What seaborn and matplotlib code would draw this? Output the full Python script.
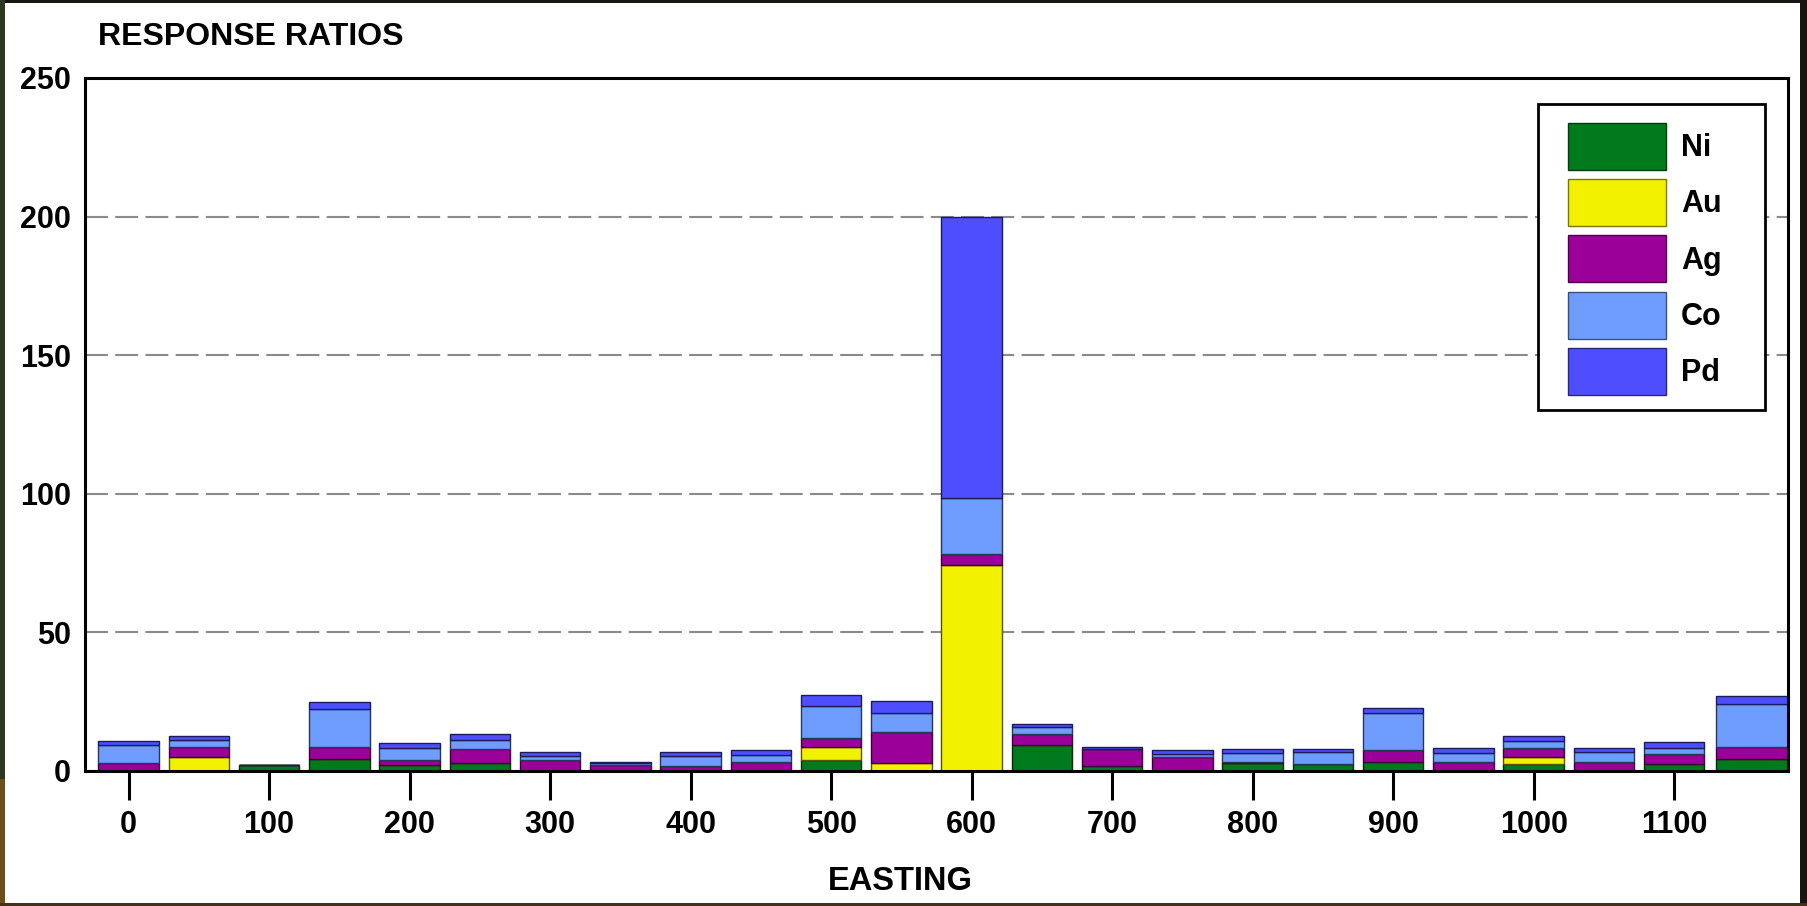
import matplotlib
matplotlib.use("Agg")
import matplotlib.pyplot as plt
from matplotlib.patches import Patch, Rectangle
import pandas as pd
import seaborn as sns

# Sample stations along the line (easting, m)
easting = [0, 50, 100, 150, 200, 250, 300, 350, 400, 450, 500, 550, 600,
           650, 700, 750, 800, 850, 900, 950, 1000, 1050, 1100, 1150]

# Response ratios per element at each station
ni_ratio = [0, 0, 2.0, 4.3, 2.1, 3.0, 0, 0, 0, 0, 3.9, 0, 0,
            9.2, 1.7, 0, 2.8, 2.4, 3.3, 0, 2.4, 0, 2.6, 4.2]
au_ratio = [0, 5.0, 0, 0, 0, 0, 0, 0, 0, 0, 4.6, 3.0, 74.3,
            0, 0, 0, 0, 0, 0, 0, 2.6, 0, 0, 0]
ag_ratio = [3.0, 3.7, 0, 4.3, 1.8, 4.9, 4.1, 2.2, 1.7, 3.3, 3.4, 10.9, 4.0,
            4.3, 6.2, 5.0, 0.5, 0, 4.3, 3.4, 3.3, 3.4, 3.5, 4.4]
co_ratio = [6.2, 2.6, 0, 13.7, 4.3, 3.3, 1.2, 0.8, 3.7, 2.4, 11.7, 7.1, 20.3,
            2.4, 0, 1.3, 3.3, 4.6, 13.2, 3.2, 2.6, 3.6, 2.3, 15.6]
pd_ratio = [1.8, 1.4, 0, 2.6, 2.0, 2.0, 1.7, 0.4, 1.6, 1.7, 3.9, 4.1, 101.4,
            1.2, 0.6, 1.3, 1.3, 0.9, 2.0, 1.6, 1.7, 1.3, 2.2, 3.0]

elements = ["Ni", "Au", "Ag", "Co", "Pd"]
colors = {"Ni": "#007a1c", "Au": "#f2f200", "Ag": "#9b0099",
          "Co": "#6f9dff", "Pd": "#4e4eff"}

series = {"Ni": ni_ratio, "Au": au_ratio, "Ag": ag_ratio,
          "Co": co_ratio, "Pd": pd_ratio}
df = pd.DataFrame({
    "easting": [e for _ in elements for e in easting],
    "element": [el for el in elements for _ in easting],
    "ratio": [v for el in elements for v in series[el]],
})

X_MIN, X_MAX = -31, 1181

# one bin per station; the last one runs out past the right frame
edges = [easting[0] - 25] + [(a + b) / 2 for a, b in zip(easting[:-1], easting[1:])]
edges.append(X_MAX + 10)

sns.set_theme(style="white")
plt.rcParams["font.family"] = ["Liberation Sans", "DejaVu Sans"]
plt.rcParams["font.weight"] = "bold"

W, H = 1807, 906
fig = plt.figure(figsize=(W / 100, H / 100), dpi=100)
fig.patch.set_facecolor("#17150f")

# white sheet with a thin coloured margin around it
fig.add_artist(Rectangle((0, 0.14), 5 / W, 0.86, transform=fig.transFigure,
                         facecolor="#2c3820", edgecolor="none", zorder=-2))
fig.add_artist(Rectangle((0, 0), 5 / W, 0.14, transform=fig.transFigure,
                         facecolor="#6e4d1c", edgecolor="none", zorder=-2))
fig.add_artist(Rectangle((0, 0), 1, 3 / H, transform=fig.transFigure,
                         facecolor="#45301a", edgecolor="none", zorder=-2))
fig.add_artist(Rectangle((5 / W, 3 / H), (1800 - 5) / W, (903 - 3) / H,
                         transform=fig.transFigure, facecolor="white",
                         edgecolor="none", zorder=-1))

AX_L, AX_R, AX_T, AX_B = 85, 1788, 78, 771
ax = fig.add_axes([AX_L / W, 1 - AX_B / H, (AX_R - AX_L) / W, (AX_B - AX_T) / H])
ax.set_facecolor("white")

sns.histplot(data=df, x="easting", weights="ratio", hue="element",
             hue_order=elements[::-1], palette=colors, multiple="stack",
             bins=edges, shrink=0.86, alpha=1, linewidth=1.0,
             legend=False, ax=ax)

# outline each segment in a darker shade of its fill
for p in ax.patches:
    fc = p.get_facecolor()
    p.set_edgecolor((fc[0] * 0.35, fc[1] * 0.35, fc[2] * 0.35, 1))

ax.set_xlim(X_MIN, X_MAX)
ax.set_ylim(0, 250)
ax.set_xticks(range(0, 1101, 100))
ax.set_yticks(range(0, 251, 50))
ax.yaxis.grid(True, color="#8a8a8a", linestyle=(0, (11, 3.5)), linewidth=1.5)
ax.xaxis.grid(False)
ax.set_axisbelow(True)

for s in ax.spines.values():
    s.set_visible(True)
    s.set_color("black")
    s.set_linewidth(2.2)

ax.tick_params(axis="x", length=21, width=2.2, pad=7, direction="out",
               labelsize=22, colors="black", bottom=True)
ax.tick_params(axis="y", length=0, pad=10, labelsize=22, colors="black")

ax.set_ylabel("")
ax.set_xlabel("EASTING", fontsize=23.5, fontweight="bold", color="black")
ax.xaxis.set_label_coords((900 - AX_L) / (AX_R - AX_L),
                          (AX_B - 866) / (AX_B - AX_T))

fig.text(98 / W, 1 - 45 / H, "RESPONSE RATIOS", fontsize=23,
         fontweight="bold", ha="left", va="baseline", color="black")

handles = [Patch(facecolor=colors[e],
                 edgecolor=tuple(c * 0.5 for c in matplotlib.colors.to_rgb(colors[e])),
                 linewidth=1, label=e) for e in elements]
leg = ax.legend(handles=handles, loc="upper left",
                bbox_to_anchor=(1568 / W, 1 - 123 / H),
                bbox_transform=fig.transFigure,
                borderaxespad=0, fontsize=22, frameon=False,
                handlelength=3.2, handleheight=1.99, handletextpad=0.5,
                labelspacing=0.3, borderpad=0)
for t in leg.get_texts():
    t.set_fontweight("bold")
    t.set_color("black")

# box around the key, padded wider on the right than on the left
fig.canvas.draw()
bb = leg.get_window_extent()
inv = fig.transFigure.inverted()
(x0, y0), (x1, y1) = inv.transform([(bb.x0 - 30, bb.y0 - 15),
                                    (bb.x1 + 43, bb.y1 + 19)])
key_box = Rectangle((x0, y0), x1 - x0, y1 - y0, transform=fig.transFigure,
                    facecolor="white", edgecolor="black", linewidth=2.0,
                    zorder=4)
fig.add_artist(key_box)
leg.set_zorder(5)
fig.add_artist(leg)

fig.savefig("out.png", dpi=100, facecolor=fig.get_facecolor())
